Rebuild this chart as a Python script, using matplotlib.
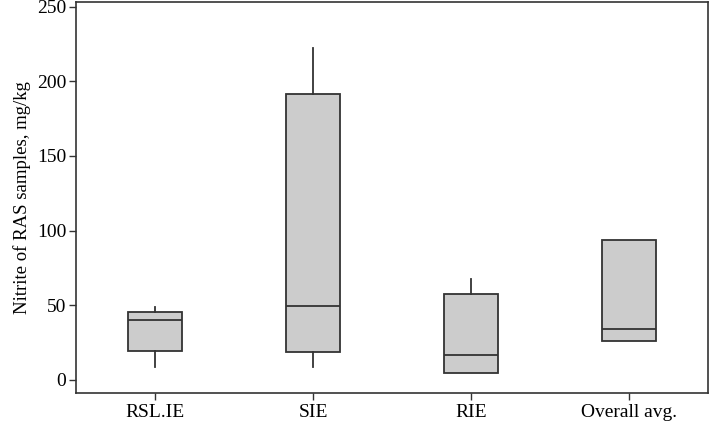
import matplotlib
matplotlib.use("Agg")
import matplotlib.pyplot as plt

categories = ["RSL.IE", "SIE", "RIE", "Overall avg."]
whisker_low = [8.5, 8.5, 4.5, 26.1]
q1 = [19.4, 18.6, 4.5, 26.1]
median = [40.2, 49.6, 16.8, 34.4]
q3 = [45.8, 191.5, 57.4, 93.6]
whisker_high = [49.1, 222.3, 67.7, 93.6]
yticks = [0, 50, 100, 150, 200, 250]

plt.rcParams['font.family'] = ['Liberation Serif', 'DejaVu Serif']

fig = plt.figure(figsize=(7.11, 4.22), dpi=100)
ax = fig.add_axes([0.107, 0.069, 0.889, 0.926])

stats = []
for i, c in enumerate(categories):
    stats.append(dict(label=c, whislo=whisker_low[i], q1=q1[i], med=median[i],
                      q3=q3[i], whishi=whisker_high[i], fliers=[]))

lc = "#333333"
ax.bxp(stats, positions=range(1, len(categories) + 1), widths=0.34,
       patch_artist=True, showcaps=False, showfliers=False,
       boxprops=dict(facecolor="#cccccc", edgecolor=lc, linewidth=1.3),
       medianprops=dict(color=lc, linewidth=1.3),
       whiskerprops=dict(color=lc, linewidth=1.3))

ax.set_xlim(0.5, 4.5)
ax.set_ylim(-8.7, 253)
ax.set_yticks(yticks)
ax.set_yticklabels([str(v) for v in yticks])
ax.tick_params(axis='both', labelsize=14, color=lc, length=5, width=1, direction='out')
ax.tick_params(axis='x', pad=3)
ax.tick_params(axis='y', pad=2)
ax.tick_params(top=False, right=False)
for s in ax.spines.values():
    s.set_color(lc)
    s.set_linewidth(1.2)
ax.set_ylabel("Nitrite of RAS samples, mg/kg", fontsize=13.5, labelpad=4)

fig.savefig("out.png", dpi=100)
